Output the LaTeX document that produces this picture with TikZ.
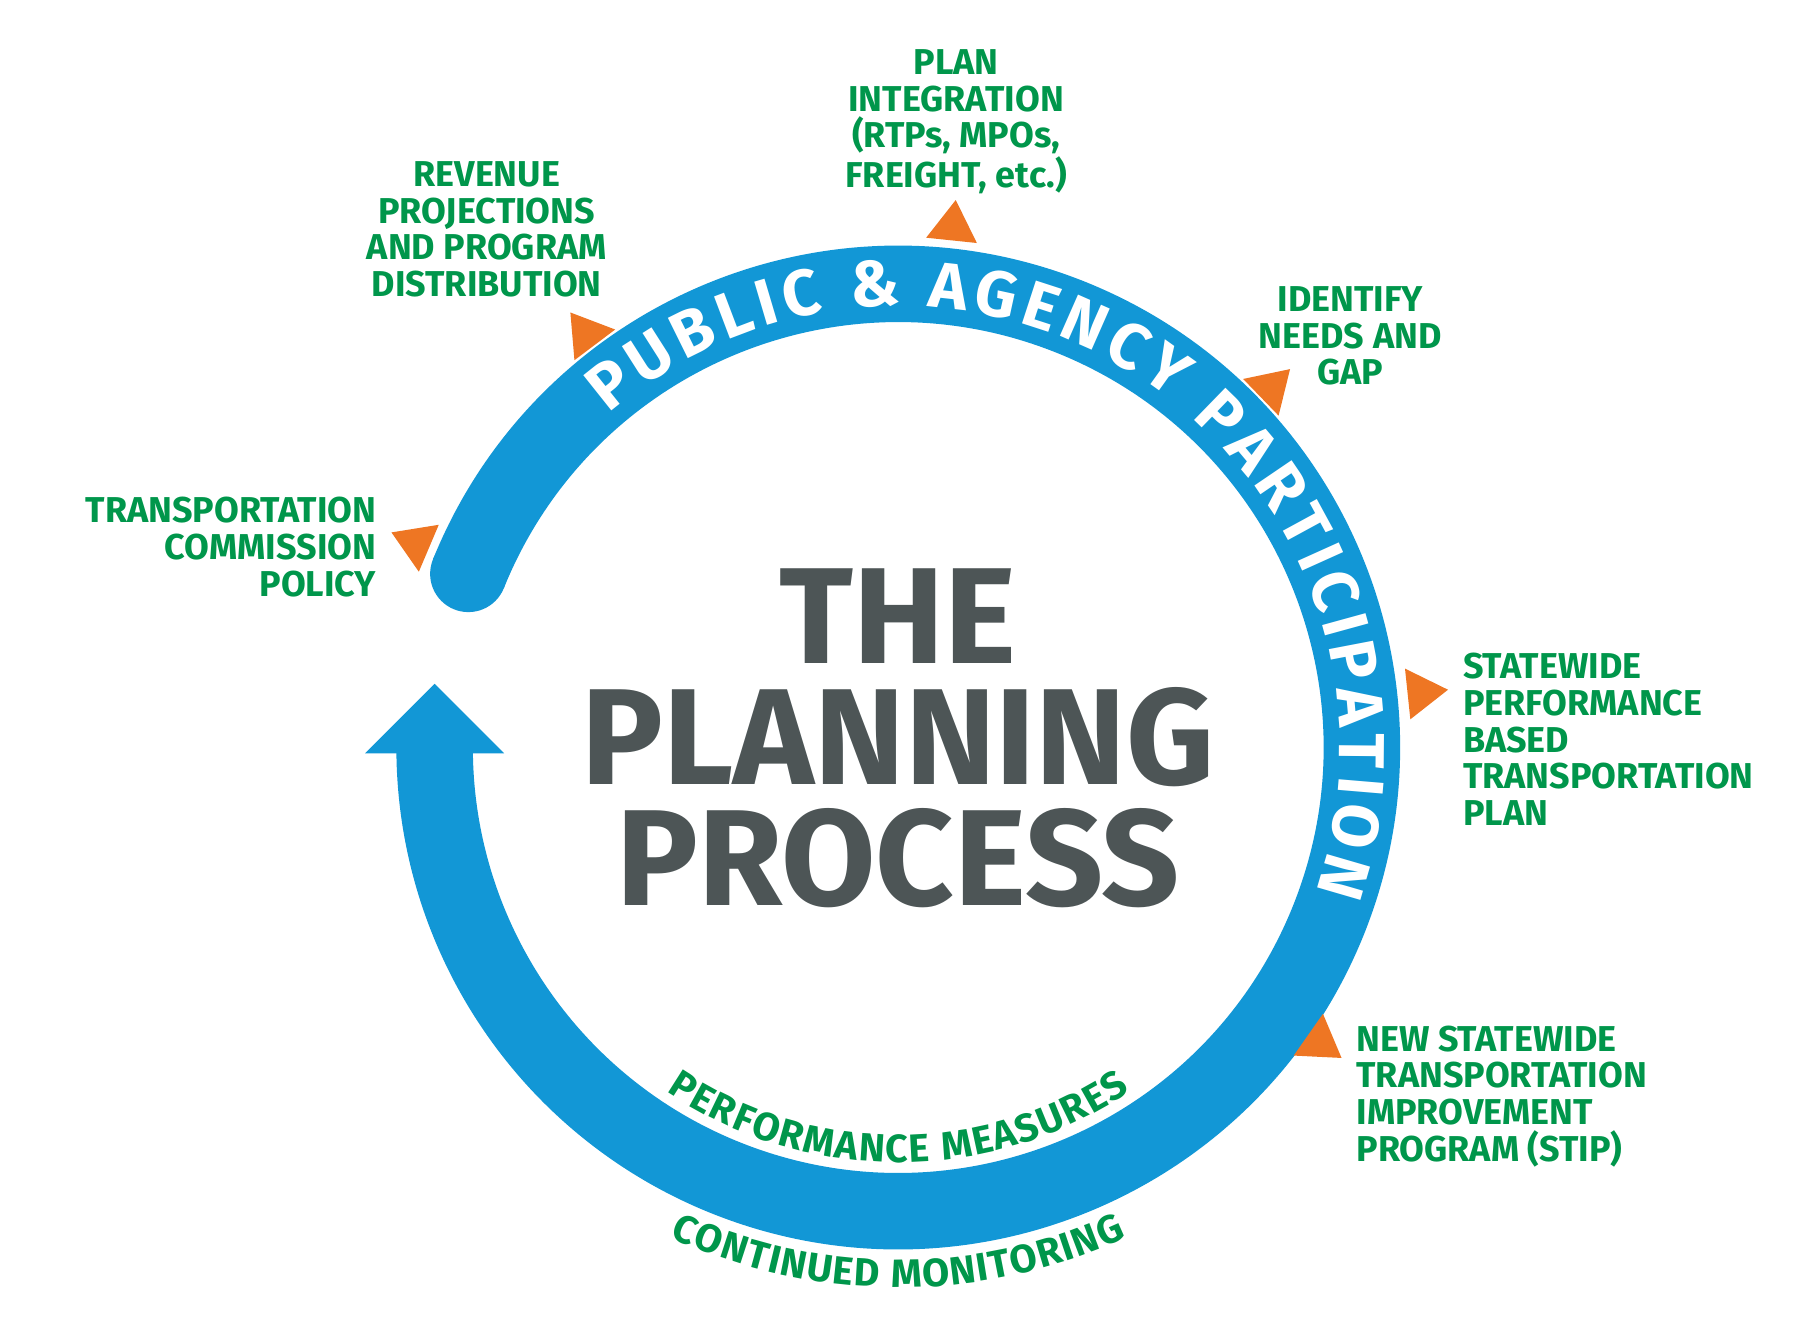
\documentclass[tikz,border=0pt]{standalone}
\usepackage{fontspec}
\setmainfont{Fira Sans}
\usetikzlibrary{decorations.text,calc}
\definecolor{ringblue}{RGB}{18,151,214}
\definecolor{labelgreen}{RGB}{0,150,75}
\definecolor{titlegray}{RGB}{77,85,86}
\definecolor{tiporange}{RGB}{238,118,35}
\tikzset{
  steplabel/.style={text=labelgreen,font=\fontsize{15.5}{15.8}\selectfont\bfseries,inner sep=0pt},
}
\begin{document}
\begin{tikzpicture}[x=0.5pt,y=0.5pt]
  \useasboundingbox (0,0) rectangle (1560,1143);
  \coordinate (c) at (775,498);
  % the ring
  \draw[ringblue,line width=33pt] (c) ++(158:400) arc[start angle=158,end angle=-180,radius=400];
  \fill[ringblue] (c) ++(158:400) circle[radius=33];
  \fill[ringblue] (315,493) -- (435,493) -- (375,553) -- cycle;

  % texts on the ring
  \path[decorate,decoration={text along path,text color=white,text align=fit to path,
    text={|\fontsize{28}{28}\selectfont\bfseries|PUBLIC {\&} AGENCY PARTICIPATION}}]
    (c) ++(131:381) arc[start angle=131,end angle=-19,radius=381];
  \path[decorate,decoration={text along path,text color=labelgreen,text align=fit to path,
    text={|\fontsize{17}{17}\selectfont\bfseries|PERFORMANCE MEASURES}}]
    (c) ++(-124:358) arc[start angle=-124,end angle=-56,radius=358];
  \path[decorate,decoration={text along path,text color=labelgreen,text align=fit to path,
    text={|\fontsize{17}{17}\selectfont\bfseries|CONTINUED MONITORING}}]
    (c) ++(-115:466) arc[start angle=-115,end angle=-65,radius=466];

  % orange tips
  \foreach \a/\r in {157/455,127/450,84/455,44/450,6/457,-35/447}
    \fill[tiporange] ($(c)+(\a:\r+20)$) -- ($(c)+(\a:\r-15)+(\a+90:22)$) -- ($(c)+(\a:\r-15)+(\a-90:22)$) -- cycle;

  \node[text=titlegray,font=\fontsize{59}{52}\selectfont\bfseries,align=center] (title) at (775,506)
    {THE\\PLANNING\\PROCESS};

  \node[steplabel,align=center] (plan) at (825,1038) {PLAN\\INTEGRATION\\(RTPs, MPOs,\\FREIGHT, etc.)};
  \node[steplabel,align=center] (revenue) at (420,945) {REVENUE\\PROJECTIONS\\AND PROGRAM\\DISTRIBUTION};
  \node[steplabel,align=center] (needs) at (1165,853) {IDENTIFY\\NEEDS AND\\GAP};
  \node[steplabel,align=right,anchor=east] (policy) at (325,671) {TRANSPORTATION\\COMMISSION\\POLICY};
  \node[steplabel,align=left,anchor=west] (swplan) at (1262,505) {STATEWIDE\\PERFORMANCE\\BASED\\TRANSPORTATION\\PLAN};
  \node[steplabel,align=left,anchor=west] (stip) at (1170,197) {NEW STATEWIDE\\TRANSPORTATION\\IMPROVEMENT\\PROGRAM (STIP)};
\end{tikzpicture}
\end{document}
